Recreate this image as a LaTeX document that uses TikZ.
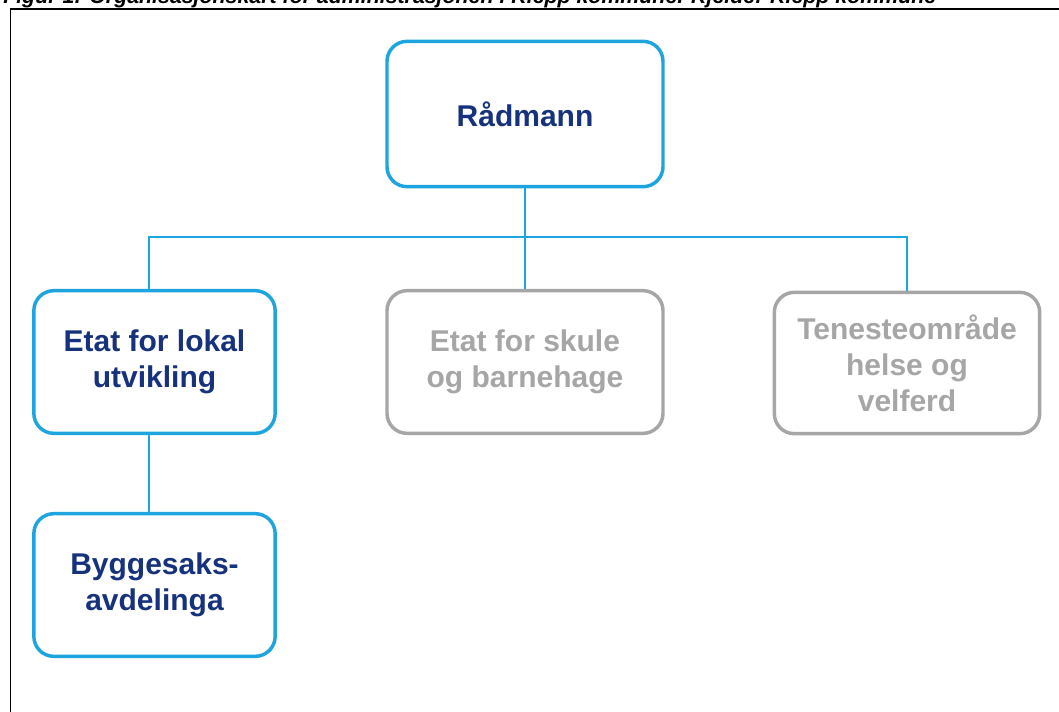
\documentclass[tikz,border=0pt]{standalone}
\usepackage{fontspec}
\setmainfont{Liberation Sans}
\definecolor{orgblue}{HTML}{1EA5DF}
\definecolor{orgnavy}{HTML}{16327C}
\definecolor{orggray}{HTML}{A6A6A6}
\tikzset{
  unit/.style={draw=orgblue,line width=2.6pt,rounded corners=15pt,align=center,
    text=orgnavy,font=\fontsize{22.5}{27}\selectfont\bfseries,inner sep=0pt},
  unitoff/.style={unit,draw=orggray,text=orggray},
  conn/.style={draw=orgblue,line width=1.2pt}
}
\begin{document}
\begin{tikzpicture}[x=0.75pt,y=-0.75pt]
\useasboundingbox (0,0) rectangle (1059,711);
\fill[white] (0,0) rectangle (1059,711);
\begin{scope}
\clip (0,0) rectangle (1059,711);
\node[anchor=base west,inner sep=0pt,font=\fontsize{16}{18}\selectfont\bfseries\itshape] (cap) at (3,3)
  {Figur 1: Organisasjonskart for administrasjonen i Klepp kommune. Kjelde: Klepp kommune};
\draw[line width=1.1pt] (10.5,720) -- (10.5,9) -- (1070,9);
\end{scope}
% einingar
\node[unit,minimum width=207pt,minimum height=109pt] (rad) at (525,114) {Rådmann};
\node[unit,minimum width=181pt,minimum height=107pt] (lok) at (154.5,362) {Etat for lokal\\utvikling};
\node[unitoff,minimum width=207pt,minimum height=107pt] (sku) at (525,362) {Etat for skule\\og barnehage};
\node[unitoff,minimum width=199pt,minimum height=106pt] (ten) at (907,363) {Tenesteområde\\helse og\\velferd};
\node[unit,minimum width=181pt,minimum height=107pt] (byg) at (154.5,585) {Byggesaks-\\avdelinga};
% linjer
\coordinate (bar) at (525,237);
\draw[conn] (rad.south) -- (bar);
\draw[conn] ([xshift=-4pt]lok.north) |- (bar) -| (ten.north);
\draw[conn] (bar) -- (sku.north);
\draw[conn] ([xshift=-4pt]lok.south) -- ([xshift=-4pt]byg.north);
\end{tikzpicture}
\end{document}
